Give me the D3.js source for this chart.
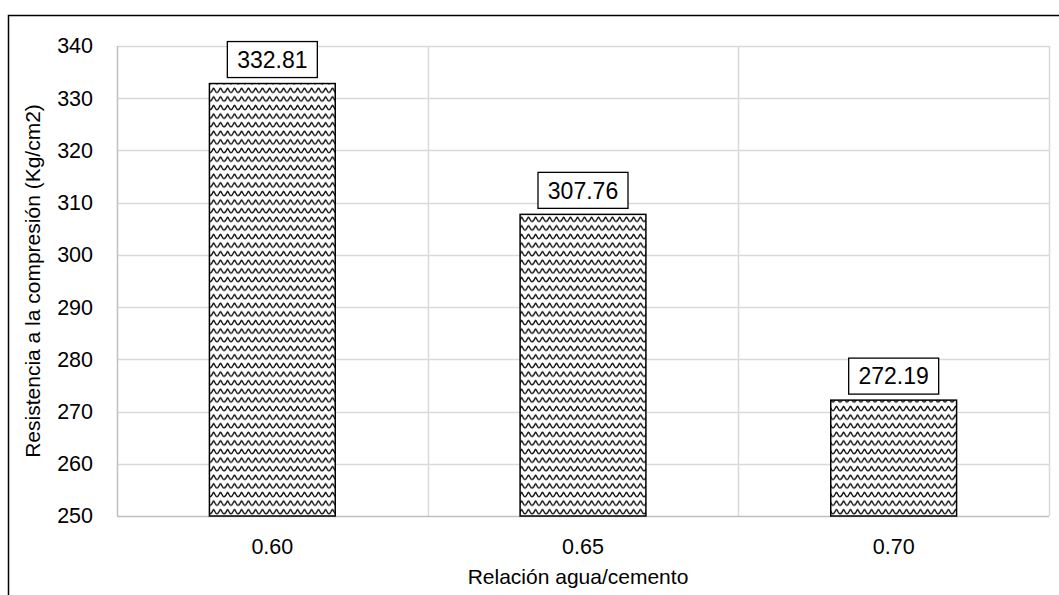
<!DOCTYPE html>
<html>
<head>
<meta charset="utf-8">
<script src="https://cdn.jsdelivr.net/npm/d3@7"></script>
<style>
  html, body { margin: 0; padding: 0; background: #fff; }
  svg { display: block; font-family: "Liberation Sans", Arial, sans-serif; }
</style>
</head>
<body>
<svg id="chart" width="1059" height="595"></svg>
<script>
// Compressive strength by water/cement ratio
const categories = ["0.60", "0.65", "0.70"];
const strengths = [332.81, 307.76, 272.19];
const yTicks = [250, 260, 270, 280, 290, 300, 310, 320, 330, 340];
const xTitle = "Relación agua/cemento";
const yTitle = "Resistencia a la compresión (Kg/cm2)";

const svg = d3.select("#chart");
const W = 1059, H = 595;
const plot = { left: 117, right: 1049, top: 46, bottom: 516 };

// Wave hatch used for the bars
const defs = svg.append("defs");
const pw = 14, ph = 8.6;
const pat = defs.append("pattern")
  .attr("id", "wave")
  .attr("patternUnits", "userSpaceOnUse")
  .attr("width", pw).attr("height", ph);
pat.append("rect").attr("width", pw).attr("height", ph).attr("fill", "#fff");
pat.append("path")
  .attr("d", "M0,6.4 C2.4,6.4 2.8,2.2 3.5,2.2 C4.6,2.2 5,6.4 7,6.4 C9,6.4 9.4,2.2 10.5,2.2 C11.6,2.2 12,6.4 14,6.4")
  .attr("fill", "none").attr("stroke", "#111").attr("stroke-width", 1.45);

// Outer chart frame (left and top edges visible)
svg.append("path")
  .attr("d", `M8.5,${H} L8.5,15.5 L${W},15.5`)
  .attr("fill", "none").attr("stroke", "#000").attr("stroke-width", 1.5);

const x = d3.scaleBand().domain(categories).range([plot.left, plot.right]).paddingInner(0).paddingOuter(0);
const y = d3.scaleLinear().domain([250, 340]).range([plot.bottom, plot.top]);

// Horizontal gridlines
svg.append("g").selectAll("line").data(yTicks.slice(1)).join("line")
  .attr("x1", plot.left).attr("x2", plot.right)
  .attr("y1", d => Math.round(y(d)) + 0.5).attr("y2", d => Math.round(y(d)) + 0.5)
  .attr("stroke", "#d9d9d9").attr("stroke-width", 1.5);

// Vertical separators between categories and plot borders
const vx = categories.map(c => x(c)).concat([plot.right]);
svg.append("g").selectAll("line").data(vx).join("line")
  .attr("x1", d => Math.round(d) + 0.5).attr("x2", d => Math.round(d) + 0.5)
  .attr("y1", plot.top).attr("y2", plot.bottom)
  .attr("stroke", (d, i) => i === 0 ? "#bfbfbf" : "#d9d9d9").attr("stroke-width", 1.5);

// Bottom axis line
svg.append("line")
  .attr("x1", plot.left).attr("x2", plot.right)
  .attr("y1", plot.bottom + 0.5).attr("y2", plot.bottom + 0.5)
  .attr("stroke", "#bfbfbf").attr("stroke-width", 1.5);

// Bars
const bw = x.bandwidth() * 0.405;
svg.append("g").selectAll("rect").data(strengths).join("rect")
  .attr("x", (d, i) => x(categories[i]) + x.bandwidth() / 2 - bw / 2)
  .attr("y", d => y(d))
  .attr("width", bw)
  .attr("height", d => y(250) - y(d))
  .attr("fill", "url(#wave)")
  .attr("stroke", "#000").attr("stroke-width", 1.5);

// Value labels in boxes
const lab = svg.append("g").selectAll("g").data(strengths).join("g")
  .attr("transform", (d, i) => `translate(${x(categories[i]) + x.bandwidth() / 2},${y(d) - 24})`);
lab.append("rect")
  .attr("x", -45).attr("y", -18).attr("width", 90).attr("height", 36)
  .attr("fill", "#fff").attr("stroke", "#000").attr("stroke-width", 1.3);
lab.append("text")
  .attr("text-anchor", "middle").attr("dy", "0.36em")
  .attr("font-size", 23).attr("fill", "#000")
  .text(d => d.toFixed(2));

// Y tick labels
const yAxis = d3.axisLeft(y).tickValues(yTicks).tickSize(0).tickPadding(0).tickFormat(d3.format("d"));
const gy = svg.append("g").attr("transform", `translate(93,0)`).call(yAxis);
gy.select(".domain").remove();
gy.selectAll("text").attr("font-size", 21.5).attr("fill", "#000")
  .attr("font-family", "Liberation Sans, Arial, sans-serif");

// X tick labels
const xAxis = d3.axisBottom(x).tickSize(0).tickPadding(0);
const gx = svg.append("g").attr("transform", `translate(0,${plot.bottom + 23})`).call(xAxis);
gx.select(".domain").remove();
gx.selectAll("text").attr("font-size", 21.5).attr("fill", "#000")
  .attr("font-family", "Liberation Sans, Arial, sans-serif");

// Axis titles
svg.append("text")
  .attr("x", (plot.left + plot.right) / 2 - 5).attr("y", 584)
  .attr("text-anchor", "middle").attr("font-size", 21).attr("fill", "#000")
  .text(xTitle);
svg.append("text")
  .attr("transform", `translate(40,${(plot.top + plot.bottom) / 2}) rotate(-90)`)
  .attr("text-anchor", "middle").attr("font-size", 21).attr("fill", "#000")
  .text(yTitle);
</script>
</body>
</html>
